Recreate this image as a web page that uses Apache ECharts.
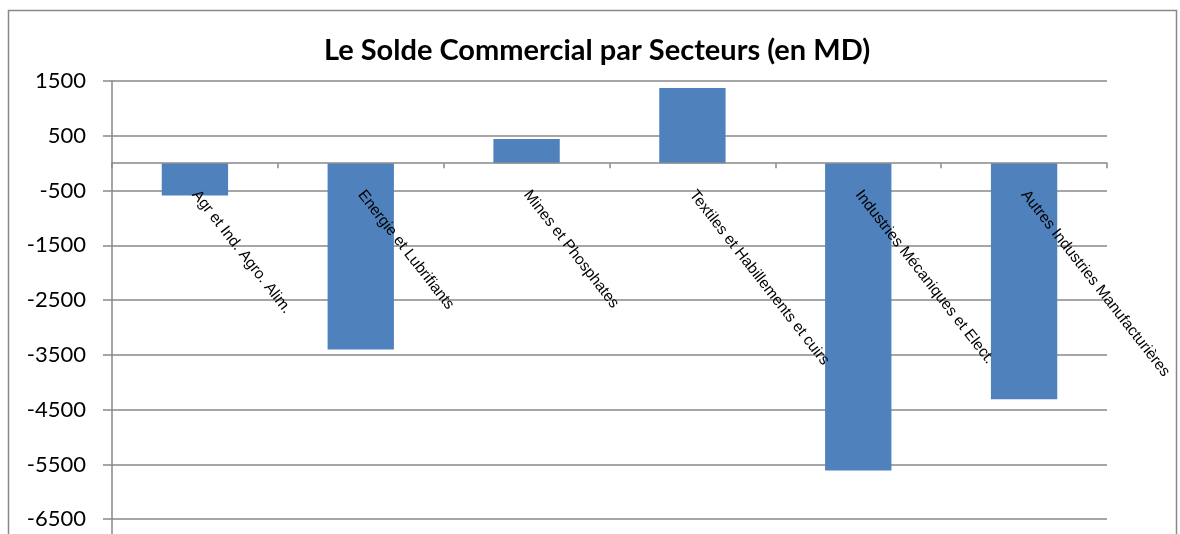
<!DOCTYPE html>
<html>
<head>
<meta charset="utf-8">
<title>Le Solde Commercial par Secteurs</title>
<script src="https://cdn.jsdelivr.net/npm/echarts@6/dist/echarts.min.js"></script>
<style>
  html, body { margin: 0; padding: 0; background: #fff; }
  #chart { width: 1180px; height: 534px; }
</style>
</head>
<body>
<div id="chart"></div>
<script>
// categories and values (MD)
const sectors = [
  'Agr et Ind. Agro. Alim.',
  'Energie et Lubrifiants',
  'Mines et Phosphates',
  'Textiles et Habillements et cuirs',
  'Industries Mécaniques et Elect.',
  'Autres Industries Manufacturières'
];
const solde = [-590, -3400, 440, 1370, -5610, -4310];
const chartTitle = 'Le Solde Commercial par Secteurs (en MD)';

const gridGray = '#898989';
const yMin = -7500, yMax = 1500;
const gridTop = 81, gridHeight = 493;
// pixel distance from grid bottom up to the zero line
const zeroShift = gridHeight * (0 - yMin) / (yMax - yMin);

var myChart = echarts.init(document.getElementById('chart'));
var option = {
  animation: false,
  title: {
    text: chartTitle,
    left: 592,
    top: 31,
    textAlign: 'center',
    textStyle: { fontFamily: 'Lato', fontWeight: 'bold', fontSize: 29, color: '#000' }
  },
  // outer chart border (cut at the bottom like the original)
  graphic: [{
    type: 'rect',
    shape: { x: 8.5, y: 10.5, width: 1168, height: 600 },
    style: { fill: null, stroke: gridGray, lineWidth: 1.5 },
    silent: true
  }],
  // plot runs past the bottom edge: the -7500 line is cropped away
  grid: { left: 112, top: gridTop, width: 995, height: gridHeight, containLabel: false, outerBoundsMode: 'none' },
  xAxis: {
    type: 'category',
    data: sectors,
    z: 5,
    offset: -zeroShift,   // put the whole axis (line, ticks, labels) on the zero line
    axisLine: { onZero: false, lineStyle: { color: gridGray, width: 1.5 } },
    axisTick: { show: true, length: 5, lineStyle: { color: gridGray, width: 1.5 } },
    axisLabel: {
      interval: 0,
      rotate: -52,
      margin: 29,
      fontFamily: 'Liberation Sans',
      fontSize: 15.5,
      color: '#000'
    }
  },
  yAxis: {
    type: 'value',
    min: yMin,
    max: yMax,
    interval: 1000,
    axisLine: { show: true, lineStyle: { color: gridGray, width: 1.5 } },
    axisTick: { show: true, length: 9, lineStyle: { color: gridGray, width: 1.5 } },
    splitLine: { lineStyle: { color: gridGray, width: 1.5 } },
    axisLabel: {
      margin: 26,
      fontFamily: 'Lato',
      fontSize: 22,
      color: '#000',
      formatter: function (v) { return String(v); }
    }
  },
  series: [{
    type: 'bar',
    data: solde,
    barCategoryGap: '60%',
    itemStyle: { color: '#4F81BD' }
  }]
};
option && myChart.setOption(option);
</script>
</body>
</html>
